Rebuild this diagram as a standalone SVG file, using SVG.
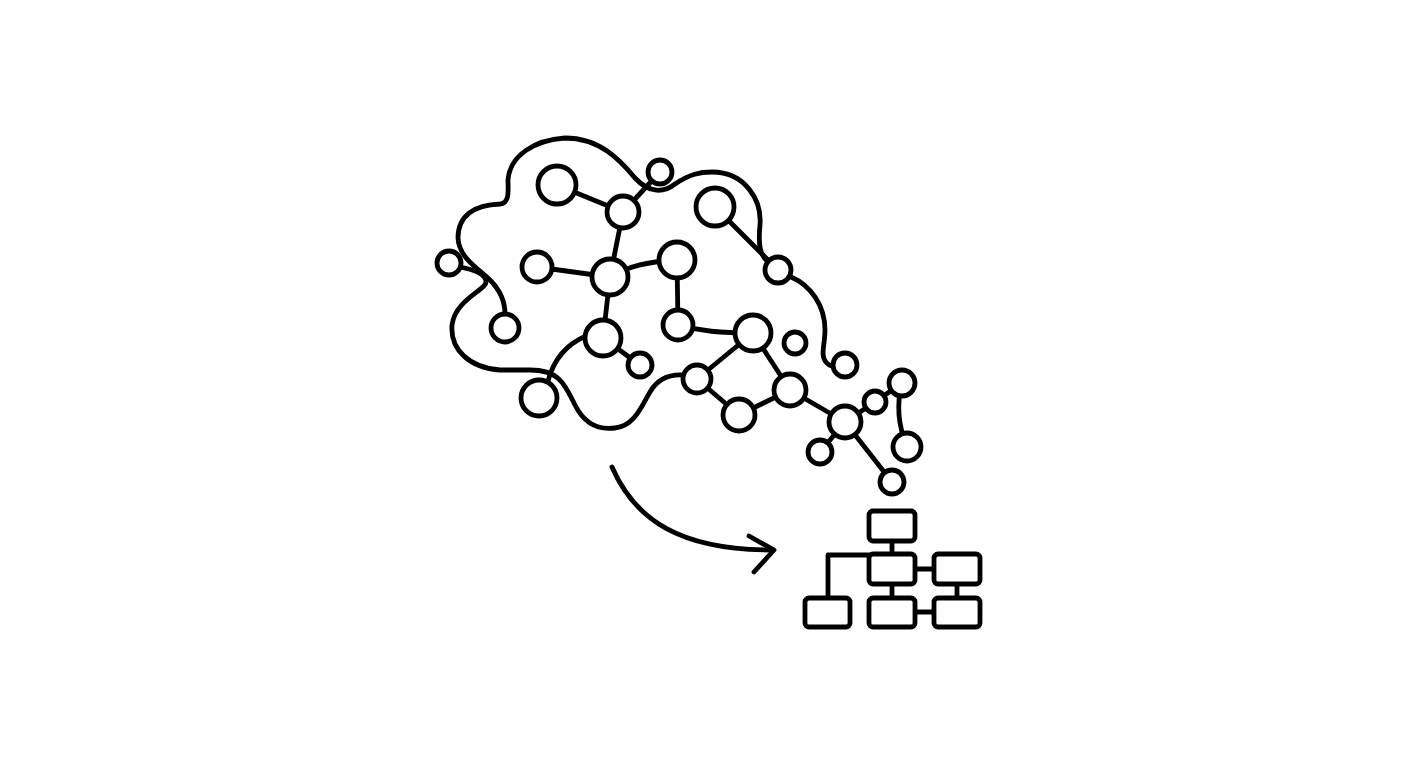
<svg xmlns="http://www.w3.org/2000/svg" width="1408" height="768" viewBox="0 0 1408 768">
<style>
.n{fill:#fff;stroke:#000;stroke-width:4.8}
.e{fill:none;stroke:#000;stroke-width:4.8;stroke-linecap:round;stroke-linejoin:round}
.b{fill:#fff;stroke:#000;stroke-width:4.8}
</style>
<rect width="1408" height="768" fill="#fff"/>
<g id="connectors">
<path class="e" d="M505,314 C505,300 500,290 490,280 C478,268 459,258 458,238 C458,215 475,205 500,204 C510,203 508,190 508,180 C510,155 535,140 565,138 C600,138 620,160 635,178 C648,192 662,194 675,184 C690,174 700,172 712,172 C745,172 762,200 760,225 C758,245 760,255 768,262"/>
<path class="e" d="M791,277 C810,285 825,305 825,330 C825,345 820,355 826,362 C828,365 830,366 833,366"/>
<path class="e" d="M460,267 C475,270 486,274 486,282 C486,290 455,300 452,325 C450,350 470,368 500,370 L530,370 C560,370 565,385 575,405 C585,425 600,430 615,428 C635,426 642,405 650,392 C658,378 670,374 684,375"/>
<path class="e" d="M548,381 C553,362 565,345 586,336"/>
<line class="e" x1="557" y1="185" x2="623" y2="212"/>
<line class="e" x1="623" y1="212" x2="660" y2="172"/>
<line class="e" x1="623" y1="212" x2="610" y2="277"/>
<line class="e" x1="537" y1="267" x2="610" y2="277"/>
<path class="e" d="M610,277 C630,266 645,262 677,260"/>
<line class="e" x1="677" y1="260" x2="678" y2="325"/>
<line class="e" x1="610" y1="277" x2="603" y2="338"/>
<line class="e" x1="603" y1="338" x2="640" y2="365"/>
<line class="e" x1="715" y1="207" x2="778" y2="270"/>
<path class="e" d="M678,325 C700,331 720,333 753,333"/>
<line class="e" x1="753" y1="333" x2="697" y2="379"/>
<line class="e" x1="753" y1="333" x2="790" y2="390"/>
<line class="e" x1="697" y1="379" x2="739" y2="415"/>
<line class="e" x1="739" y1="415" x2="790" y2="390"/>
<line class="e" x1="790" y1="390" x2="845" y2="422"/>
<line class="e" x1="845" y1="422" x2="875" y2="402"/>
<line class="e" x1="875" y1="402" x2="902" y2="383"/>
<path class="e" d="M902,383 C896,405 898,425 907,447"/>
<line class="e" x1="845" y1="422" x2="820" y2="452"/>
<line class="e" x1="845" y1="422" x2="892" y2="482"/>
<path class="e" d="M612,467 C635,520 680,550 772,550"/>
<polyline class="e" points="749,536 774,550 754,572"/>
<path class="e" d="M892,541 V555 M869,555 H828 V598 M915,569 H934 M892,584 V598 M957,584 V598 M915,612 H934"/>
</g>
<g id="nA"><circle class="n" cx="557" cy="185" r="19"/></g>
<g id="nB"><circle class="n" cx="660" cy="172" r="12"/></g>
<g id="nC"><circle class="n" cx="623" cy="212" r="16"/></g>
<g id="nD"><circle class="n" cx="449" cy="263" r="12"/></g>
<g id="nE"><circle class="n" cx="537" cy="267" r="15"/></g>
<g id="nF"><circle class="n" cx="610" cy="277" r="18"/></g>
<g id="nG"><circle class="n" cx="677" cy="260" r="18"/></g>
<g id="nH"><circle class="n" cx="715" cy="207" r="19"/></g>
<g id="nI"><circle class="n" cx="778" cy="270" r="13"/></g>
<g id="nJ"><circle class="n" cx="505" cy="328" r="14"/></g>
<g id="nK"><circle class="n" cx="603" cy="338" r="18"/></g>
<g id="nL"><circle class="n" cx="640" cy="365" r="12"/></g>
<g id="nM"><circle class="n" cx="539" cy="398" r="18"/></g>
<g id="nN"><circle class="n" cx="678" cy="325" r="15"/></g>
<g id="nO"><circle class="n" cx="753" cy="333" r="18"/></g>
<g id="nP"><circle class="n" cx="795" cy="343" r="11"/></g>
<g id="nQ"><circle class="n" cx="845" cy="365" r="12"/></g>
<g id="nR"><circle class="n" cx="697" cy="379" r="14"/></g>
<g id="nS"><circle class="n" cx="790" cy="390" r="16"/></g>
<g id="nT"><circle class="n" cx="739" cy="415" r="16"/></g>
<g id="nU"><circle class="n" cx="845" cy="422" r="16"/></g>
<g id="nV"><circle class="n" cx="875" cy="402" r="11"/></g>
<g id="nW"><circle class="n" cx="902" cy="383" r="13"/></g>
<g id="nX"><circle class="n" cx="907" cy="447" r="14"/></g>
<g id="nY"><circle class="n" cx="820" cy="452" r="12"/></g>
<g id="nZ"><circle class="n" cx="892" cy="482" r="12"/></g>
<g id="box1"><rect class="b" x="869" y="511" width="46" height="30" rx="4"/></g>
<g id="box2"><rect class="b" x="869" y="554" width="46" height="30" rx="4"/></g>
<g id="box3"><rect class="b" x="934" y="554" width="46" height="30" rx="4"/></g>
<g id="box4"><rect class="b" x="805" y="598" width="45" height="29" rx="4"/></g>
<g id="box5"><rect class="b" x="869" y="598" width="46" height="29" rx="4"/></g>
<g id="box6"><rect class="b" x="934" y="598" width="46" height="29" rx="4"/></g>
</svg>
